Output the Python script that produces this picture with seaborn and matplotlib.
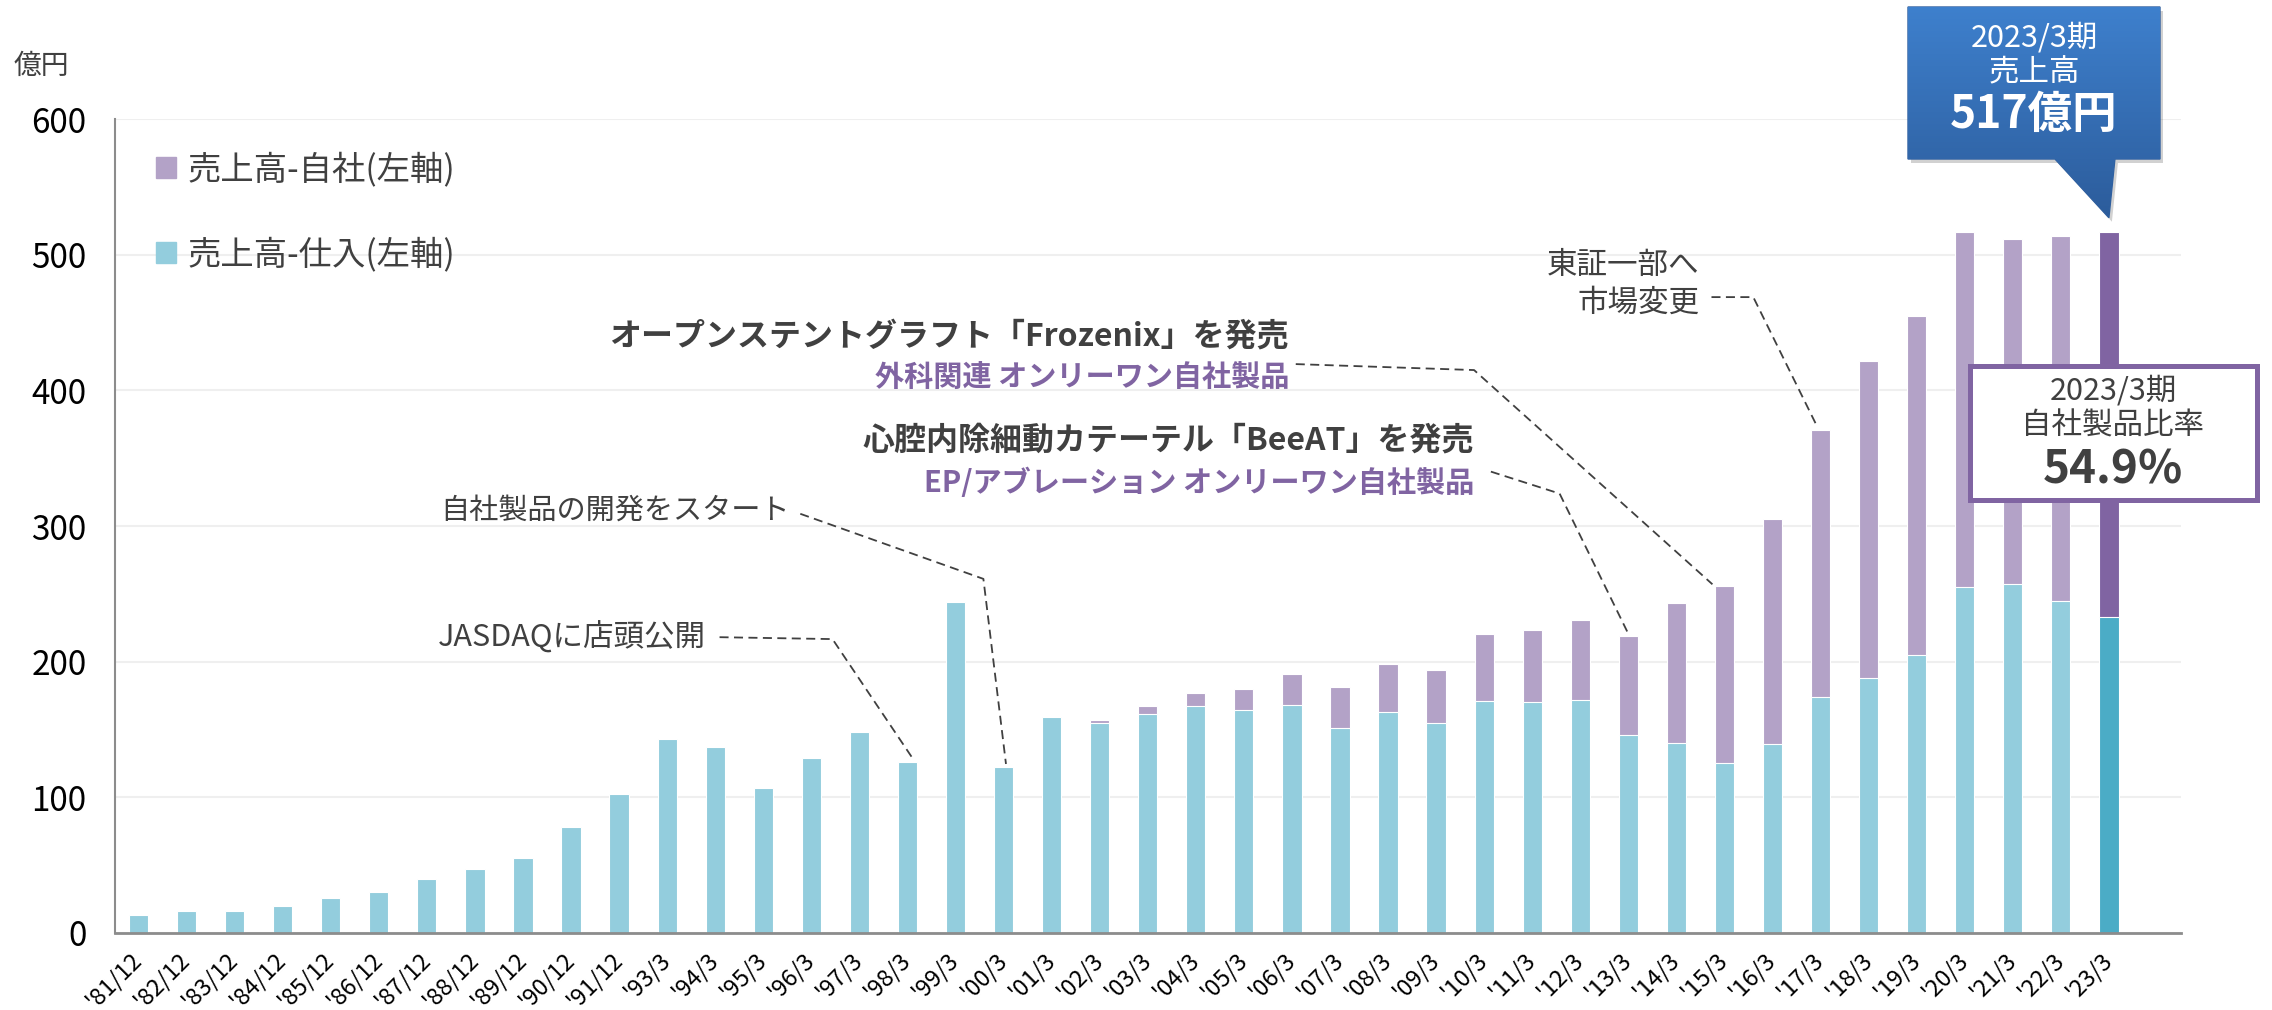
import numpy as np
import pandas as pd
import matplotlib
matplotlib.use("Agg")
import matplotlib.pyplot as plt
import seaborn as sns
from matplotlib.patches import Polygon, Rectangle
from matplotlib.colors import LinearSegmentedColormap

# ---- データ（億円） ----
periods = ["'81/12", "'82/12", "'83/12", "'84/12", "'85/12", "'86/12", "'87/12",
           "'88/12", "'89/12", "'90/12", "'91/12", "'93/3", "'94/3", "'95/3",
           "'96/3", "'97/3", "'98/3", "'99/3", "'00/3", "'01/3", "'02/3", "'03/3",
           "'04/3", "'05/3", "'06/3", "'07/3", "'08/3", "'09/3", "'10/3", "'11/3",
           "'12/3", "'13/3", "'14/3", "'15/3", "'16/3", "'17/3", "'18/3", "'19/3",
           "'20/3", "'21/3", "'22/3", "'23/3"]
shiire = [13, 16, 16, 20, 26, 30, 40, 47, 55, 78, 102, 143, 137, 107,
          129, 148, 126, 244, 122, 159, 155, 161,
          167, 164, 168, 151, 163, 155, 171, 170,
          172, 146, 140, 125, 139, 174, 188, 205,
          255, 257, 245, 233]
jisha = [0, 0, 0, 0, 0, 0, 0, 0, 0, 0, 0, 0, 0, 0,
         0, 0, 0, 0, 0, 0, 2, 6,
         10, 16, 23, 30, 35, 39, 49, 53,
         59, 73, 103, 131, 166, 197, 234, 250,
         262, 255, 269, 284]

df = pd.DataFrame({"期": periods, "仕入": shiire, "自社": jisha})
df["合計"] = df["仕入"] + df["自社"]
n = len(df)

# 色
c_shiire = "#93CDDD"
c_jisha = "#B3A2C7"
c_shiire_last = "#4BACC6"
c_jisha_last = "#8064A2"
c_text = "#404040"
c_axis = "#8C8C8C"

sns.set_style("white")
plt.rcParams["font.family"] = ["Noto Sans CJK JP", "DejaVu Sans"]

W, H = 2272, 1010
fig = plt.figure(figsize=(W / 100, H / 100), dpi=100)
ax = fig.add_axes([114.5 / W, 1 - 932.8 / H, (2181 - 114.5) / W, (932.8 - 119.2) / H])

# 積み上げ棒（合計を先に描き、その上に仕入を重ねる）
pal_total = [c_jisha] * (n - 1) + [c_jisha_last]
pal_shiire = [c_shiire] * (n - 1) + [c_shiire_last]
sns.barplot(data=df, x="期", y="合計", hue="期", palette=pal_total, width=0.4, saturation=1,
            edgecolor="white", linewidth=0.8, errorbar=None, legend=False, ax=ax)
sns.barplot(data=df, x="期", y="仕入", hue="期", palette=pal_shiire, width=0.4, saturation=1,
            edgecolor="white", linewidth=0.8, errorbar=None, legend=False, ax=ax)

# 軸
ax.set_xlim(-0.5, n + 0.5)
ax.set_ylim(0, 600)
ax.set_yticks(range(0, 601, 100))
ax.yaxis.grid(True, color="#EFEFEF", linewidth=1.5)
ax.xaxis.grid(False)
ax.set_axisbelow(True)
ax.set_xlabel("")
ax.set_ylabel("")
for s in ["top", "right"]:
    ax.spines[s].set_visible(False)
ax.spines["left"].set_color(c_axis)
ax.spines["left"].set_linewidth(1.5)
ax.spines["bottom"].set_color(c_axis)
ax.spines["bottom"].set_linewidth(2)

ax.set_xticks(range(n))
ax.set_xticklabels(periods, rotation=45, ha="right", va="center",
                   rotation_mode="anchor", fontsize=17)
ax.tick_params(axis="x", which="major", length=0, pad=17, labelcolor="black")
ax.set_xticks(np.arange(-0.5, n + 1, 1), minor=True)
ax.tick_params(axis="x", which="minor", length=8, width=1.5, color=c_axis, direction="out")
ax.tick_params(axis="y", length=8, width=1.5, color=c_axis, labelsize=24, pad=12,
               labelcolor="black")

fig.text(14 / W, 1 - 66 / H, "億円", fontsize=20, color=c_text, ha="left", va="center")

# 凡例
handles = [Rectangle((0, 0), 1, 1, color=c_jisha), Rectangle((0, 0), 1, 1, color=c_shiire)]
ax.legend(handles, ["売上高-自社(左軸)", "売上高-仕入(左軸)"], loc="upper left",
          bbox_to_anchor=(0.012, 0.98), frameon=False, fontsize=24,
          handlelength=0.6, handleheight=0.6, handletextpad=0.35,
          labelspacing=1.5, borderpad=0, labelcolor=c_text)

# ---- 注記 ----
tot = df["合計"].tolist()
idx = {p: i for i, p in enumerate(periods)}
dash = dict(color=c_text, lw=1.3, ls=(0, (5, 3)), clip_on=False)

ax.text(11.80, 218, "JASDAQに店頭公開", fontsize=22, color=c_text, ha="right", va="center")
i = idx["'98/3"]
ax.plot([12.09, 14.44, i + 0.12], [218, 216.6, tot[i] + 2], **dash)

ax.text(13.55, 311, "自社製品の開発をスタート", fontsize=21, color=c_text, ha="right", va="center")
i = idx["'00/3"]
ax.plot([13.77, 17.58, i + 0.05], [309, 261, tot[i] + 2.5], **dash)

ax.text(23.94, 439.4, "オープンステントグラフト「Frozenix」を発売", fontsize=23,
        fontweight="bold", color=c_text, ha="right", va="center")
ax.text(23.94, 409.1, "外科関連 オンリーワン自社製品", fontsize=21,
        fontweight="bold", color=c_jisha_last, ha="right", va="center")
i = idx["'15/3"]
ax.plot([24.08, 27.79, i - 0.25], [419.4, 415, tot[i] + 1], **dash)

ax.text(27.79, 363.4, "心腔内除細動カテーテル「BeeAT」を発売", fontsize=23,
        fontweight="bold", color=c_text, ha="right", va="center")
ax.text(27.79, 331.7, "EP/アブレーション オンリーワン自社製品", fontsize=21,
        fontweight="bold", color=c_jisha_last, ha="right", va="center")
i = idx["'13/3"]
ax.plot([28.14, 29.57, i], [340.1, 323.9, tot[i] + 1.5], **dash)

ax.text(32.48, 492.4, "東証一部へ", fontsize=22, color=c_text, ha="right", va="center")
ax.text(32.48, 464.3, "市場変更", fontsize=22, color=c_text, ha="right", va="center")
i = idx["'17/3"]
ax.plot([32.73, 33.6, i - 0.08], [468.8, 468.8, tot[i] + 3], **dash)

# ---- 吹き出し（ピクセル座標のオーバーレイ） ----
ov = fig.add_axes([0, 0, 1, 1], zorder=5)
ov.set_xlim(0, W)
ov.set_ylim(H, 0)
ov.axis("off")

bx, by = ax.transData.transform((n - 1, tot[-1]))
tip = (bx, H - by - 14)
pts = [(1908, 7), (2160, 7), (2160, 159), (bx + 6, 159), tip, (2055, 159), (1908, 159)]
shadow = Polygon([(x + 3, y + 4) for x, y in pts], closed=True, fc="#000000", alpha=0.18, lw=0)
ov.add_patch(shadow)
poly = Polygon(pts, closed=True, fc="none", ec="#2F5F9F", lw=1)
ov.add_patch(poly)
grad = np.linspace(0, 1, 256).reshape(-1, 1)
cmap = LinearSegmentedColormap.from_list("blue", ["#3E80CD", "#2C5C9B"])
im = ov.imshow(grad, extent=[1908, 2160, tip[1], 7], cmap=cmap, aspect="auto", zorder=1)
im.set_clip_path(poly)
ov.set_xlim(0, W)
ov.set_ylim(H, 0)

ov.text(2034, 38, "2023/3期", fontsize=22, color="white", ha="center", va="center", zorder=3)
ov.text(2034, 73, "売上高", fontsize=22, color="white", ha="center", va="center", zorder=3)
ov.text(2034, 115, f"{tot[-1]}億円", fontsize=32, fontweight="bold", color="white",
        ha="center", va="center", zorder=3)

ratio = jisha[-1] / tot[-1] * 100
box = Rectangle((1969.5, 365.5), 287, 134, fc="white", ec=c_jisha_last, lw=3.6, zorder=2)
ov.add_patch(box)
ov.text(2113, 391, "2023/3期", fontsize=22, color=c_text, ha="center", va="center", zorder=3)
ov.text(2113, 426, "自社製品比率", fontsize=22, color=c_text, ha="center", va="center", zorder=3)
ov.text(2113, 470, f"{ratio:.1f}%", fontsize=33, fontweight="bold", color=c_text,
        ha="center", va="center", zorder=3)

fig.savefig("out.png", dpi=100)
